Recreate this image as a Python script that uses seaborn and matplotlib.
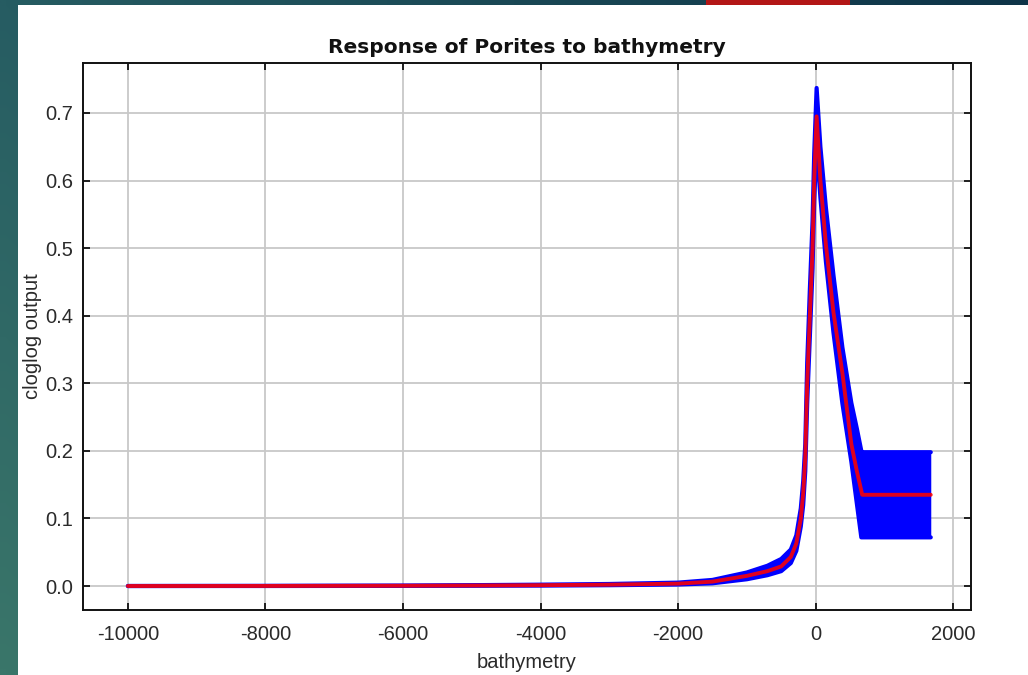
import numpy as np
import pandas as pd
import matplotlib
matplotlib.use("Agg")
import matplotlib.pyplot as plt
import seaborn as sns
from matplotlib.patches import Rectangle

# ---------------- data ----------------
bathymetry = [-10000, -8000, -6000, -4800, -4000, -3000, -2000, -1500, -1000, -700,
              -500, -360, -280, -215, -180, -150, -122, -83, -44, -20,
              15, 70, 150, 260, 390, 520, 600, 665, 678, 1675]
mean_response = [0.0, 0.0001, 0.0004, 0.0008, 0.0012, 0.002, 0.0035, 0.0065, 0.015, 0.022,
                 0.029, 0.043, 0.063, 0.100, 0.137, 0.19, 0.30, 0.40, 0.50, 0.60,
                 0.695, 0.60, 0.505, 0.405, 0.315, 0.21, 0.17, 0.141, 0.135, 0.135]
upper_response = [0.0, 0.0002, 0.0006, 0.0014, 0.002, 0.003, 0.005, 0.009, 0.020, 0.030,
                  0.040, 0.054, 0.075, 0.115, 0.155, 0.21, 0.33, 0.44, 0.54, 0.64,
                  0.737, 0.65, 0.56, 0.46, 0.353, 0.271, 0.233, 0.20, 0.198, 0.198]
lower_response = [0.0, 0.0, 0.0002, 0.0004, 0.0006, 0.0012, 0.0022, 0.004, 0.010, 0.016,
                  0.022, 0.034, 0.052, 0.088, 0.12, 0.17, 0.27, 0.37, 0.47, 0.57,
                  0.655, 0.575, 0.48, 0.375, 0.27, 0.184, 0.122, 0.072, 0.072, 0.072]
x_ticks = [-10000, -8000, -6000, -4000, -2000, 0, 2000]
y_ticks = [0.0, 0.1, 0.2, 0.3, 0.4, 0.5, 0.6, 0.7]
title_text = "Response of Porites to bathymetry"
x_label = "bathymetry"
y_label = "cloglog output"

df = pd.DataFrame({"bathymetry": bathymetry, "mean": mean_response,
                   "upper": upper_response, "lower": lower_response})

# ---------------- style ----------------
sns.set_theme(style="whitegrid")
plt.rcParams["font.family"] = ["Liberation Sans", "DejaVu Sans"]
plt.rcParams["axes.unicode_minus"] = False

W, H = 1028, 675
fig = plt.figure(figsize=(W / 100, H / 100), dpi=100)

# slide background (gradient), white panel and red accent bar
bg = fig.add_axes([0, 0, 1, 1], zorder=-10)
gy, gx = np.mgrid[0:1:60j, 0:1:90j]
tl, tr = np.array([38, 92, 98]), np.array([14, 52, 72])
bl, br = np.array([58, 118, 106]), np.array([30, 80, 85])
grad = ((1 - gy)[..., None] * ((1 - gx)[..., None] * tl + gx[..., None] * tr)
        + gy[..., None] * ((1 - gx)[..., None] * bl + gx[..., None] * br)) / 255.0
bg.imshow(grad, extent=[0, W, H, 0], aspect="auto", interpolation="bilinear")
bg.add_patch(Rectangle((18, 5), W - 18, H - 5, facecolor="white", edgecolor="none"))
bg.add_patch(Rectangle((706, 0), 144, 5, facecolor="#b31616", edgecolor="none"))
bg.set_xlim(0, W)
bg.set_ylim(H, 0)
bg.axis("off")

# ---------------- main plot ----------------
ax = fig.add_axes([82.5 / W, 1 - 610 / H, (971 - 82.5) / W, (610 - 62.7) / H])
ax.set_facecolor("white")

ax.fill_between(df["bathymetry"], df["lower"], df["upper"], color="#0000ff", lw=0, zorder=2)
sns.lineplot(data=df, x="bathymetry", y="upper", color="#0000ff", lw=3, ax=ax,
             sort=False, estimator=None, zorder=2)
sns.lineplot(data=df, x="bathymetry", y="lower", color="#0000ff", lw=3, ax=ax,
             sort=False, estimator=None, zorder=2)
sns.lineplot(data=df, x="bathymetry", y="mean", color="#ff0000", alpha=0.88, lw=2.8, ax=ax,
             sort=False, estimator=None, zorder=3)

ax.set_xlim(-10660, 2260)
ax.set_ylim(-0.0355, 0.7744)
ax.set_xticks(x_ticks)
ax.set_xticklabels([str(v) for v in x_ticks])
ax.set_yticks(y_ticks)
ax.set_yticklabels([f"{v:.1f}" for v in y_ticks])

ax.grid(True, color="#c8c8c8", lw=1.3)
ax.set_axisbelow(True)
for s in ax.spines.values():
    s.set_visible(True)
    s.set_color("#111111")
    s.set_linewidth(1.4)

ax.tick_params(axis="both", which="both", direction="in", length=5, width=1.3,
               color="#111111", top=True, right=True, bottom=True, left=True,
               labelsize=14.5, labelcolor="#2a2a2a")
ax.tick_params(axis="x", pad=11)
ax.tick_params(axis="y", pad=6.8)

ax.set_xlabel(x_label, fontsize=14.5, color="#2a2a2a", labelpad=6)
ax.set_ylabel(y_label, fontsize=14.5, color="#2a2a2a", labelpad=2)
ax.set_title(title_text, fontsize=14.5, fontweight="bold", family="DejaVu Sans",
             color="#111111", pad=7)

fig.savefig("out.png", dpi=100)
